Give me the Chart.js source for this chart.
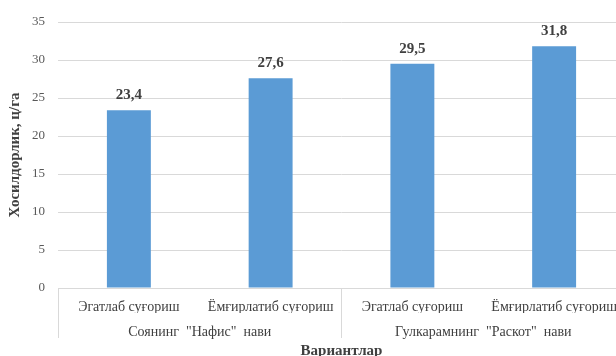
<!DOCTYPE html>
<html>
<head>
<meta charset="utf-8">
<script src="https://cdn.jsdelivr.net/npm/chart.js@4/dist/chart.umd.min.js"></script>
<style>
  html, body { margin: 0; padding: 0; background: #fff; overflow: hidden; }
</style>
</head>
<body>
<canvas id="canvas" width="630" height="356"></canvas>
<script>
var categories = ['Эгатлаб суғориш', 'Ёмғирлатиб суғориш', 'Эгатлаб суғориш', 'Ёмғирлатиб суғориш'];
var groups = ['Соянинг  "Нафис"  нави', 'Гулкарамнинг  "Раскот"  нави'];
var yields = [23.4, 27.6, 29.5, 31.8];
var yTicks = [0, 5, 10, 15, 20, 25, 30, 35];

var serif = '"Liberation Serif", "Times New Roman", serif';
var gridColor = '#d9d9d9';

// values over the bars, comma as decimal mark
var valueLabels = {
    id: 'valueLabels',
    afterDatasetsDraw: function(chart){
        var ctx = chart.ctx;
        var meta = chart.getDatasetMeta(0);
        ctx.save();
        ctx.font = 'bold 15px ' + serif;
        ctx.fillStyle = '#404040';
        ctx.textAlign = 'center';
        ctx.textBaseline = 'middle';
        meta.data.forEach(function(bar, i){
            ctx.fillText(yields[i].toFixed(1).replace('.', ','), bar.x, bar.y - 15);
        });
        ctx.restore();
    }
};

var ctx = document.getElementById('canvas').getContext('2d');
var myChart = new Chart(ctx, {
    type: 'bar',
    data: {
        labels: categories,
        datasets: [{
            data: yields,
            backgroundColor: '#5b9bd5',
            barPercentage: 0.31,
            categoryPercentage: 1
        }]
    },
    options: {
        responsive: false,
        animation: false,
        layout: { padding: { top: 22, right: 5, left: 0, bottom: 0 } },
        plugins: {
            legend: { display: false },
            tooltip: { enabled: false }
        },
        scales: {
            y: {
                min: 0,
                max: 35,
                afterBuildTicks: function(scale){
                    scale.ticks = yTicks.map(function(v){ return { value: v }; });
                },
                afterFit: function(scale){ scale.width = 58; },
                grid: { color: gridColor, drawTicks: false },
                border: { display: false },
                ticks: {
                    padding: 13,
                    color: '#595959',
                    font: { family: serif, size: 13 }
                },
                title: {
                    display: true,
                    text: 'Хосилдорлик, ц/га',
                    color: '#404040',
                    padding: { top: 6, bottom: 0 },
                    font: { family: serif, size: 15, weight: 'bold' }
                }
            },
            x: {
                weight: 0,
                afterFit: function(scale){ scale.height = 25; },
                grid: {
                    drawOnChartArea: false,
                    drawTicks: true,
                    tickLength: 50,
                    tickColor: function(c){
                        return (c.index === undefined || c.index % 2 === 0) ? gridColor : 'rgba(0,0,0,0)';
                    }
                },
                border: { color: gridColor },
                ticks: {
                    padding: -39,
                    color: '#404040',
                    font: { family: serif, size: 14 }
                }
            },
            x2: {
                type: 'category',
                position: 'bottom',
                weight: 1,
                labels: groups,
                offset: true,
                afterFit: function(scale){ scale.height = 43; },
                grid: { display: false },
                border: { display: false },
                ticks: {
                    padding: 3,
                    color: '#404040',
                    font: { family: serif, size: 14 }
                },
                title: {
                    display: true,
                    text: 'Вариантлар',
                    color: '#404040',
                    padding: { top: 0, bottom: -4 },
                    font: { family: serif, size: 15, weight: 'bold' }
                }
            }
        }
    },
    plugins: [valueLabels]
});
</script>
</body>
</html>
